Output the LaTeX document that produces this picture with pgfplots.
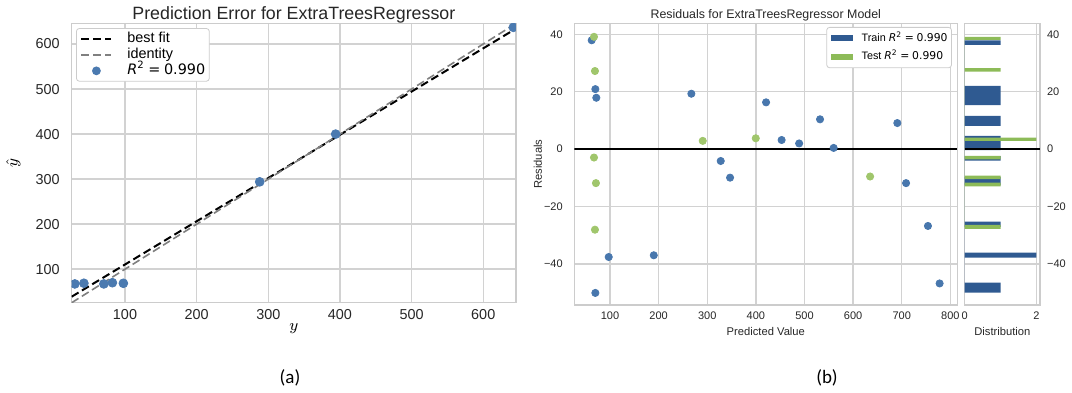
\documentclass[border=0pt]{standalone}
\usepackage{fontspec}
\setmainfont{Liberation Sans}
\newfontfamily\capfont{Carlito}
\newfontfamily\dejavu{DejaVu Sans}
\usepackage{pgfplots}
\pgfplotsset{compat=1.18}
\definecolor{gridc}{HTML}{D2D2D2}
\definecolor{framec}{HTML}{CCCCCC}
\definecolor{tickc}{HTML}{262626}
\definecolor{ptblue}{HTML}{4B7AB0}
\definecolor{trainpt}{HTML}{4877AD}
\definecolor{trainbar}{HTML}{2F5A91}
\definecolor{testpt}{HTML}{A0C66C}
\definecolor{testbar}{HTML}{8DBB58}
\newcommand{\rsq}{{\dejavu\itshape R}{\dejavu\textsuperscript{2}}\hspace{0.25em}{\dejavu =}\hspace{0.25em}{\dejavu 0.990}}
\pgfplotsset{
  every axis title shift=0pt,
  linelegend/.style={legend image code/.code={\draw[sharp corners, ##1] (0pt,0pt) -- (15pt,0pt); \path[draw=none] (0pt,0pt) -- (23pt,0pt);}},
  marklegend/.style={legend image code/.code={\path[draw=none] (0pt,0pt) -- (23pt,0pt); \fill[ptblue, draw=none] (7.5pt,0pt) circle (2.2pt);}},
  trainlegend/.style={legend image code/.code={\fill[trainbar, draw=none, sharp corners] (0pt,-1.5pt) rectangle (11pt,1.5pt); \path[draw=none] (0pt,0pt) -- (15.5pt,0pt);}},
  testlegend/.style={legend image code/.code={\fill[testbar, draw=none, sharp corners] (0pt,-1.5pt) rectangle (11pt,1.5pt); \path[draw=none] (0pt,0pt) -- (15.5pt,0pt);}},
}
\begin{document}
\begin{tikzpicture}
\path[use as bounding box] (0,0) rectangle (536pt,196pt);
% ---------------- (a) prediction error ----------------
\begin{axis}[
  at={(35.85pt,44.65pt)}, anchor=south west,
  scale only axis, width=222.15pt, height=139.7pt,
  xmin=25.6, xmax=645.7, ymin=25.6, ymax=646,
  xtick={100,200,...,600}, ytick={100,200,...,600},
  grid=major, grid style={gridc, line width=0.7pt},
  axis line style={framec, line width=0.7pt},
  tick style={draw=none},
  /pgf/number format/assume math mode=true,
  ticklabel style={font=\fontsize{7.2}{8}\selectfont, text=tickc, inner sep=0pt},
  yticklabel style={anchor=east, xshift=-5.8pt},
  xticklabel style={anchor=north, yshift=-3.4pt},
  title={Prediction Error for ExtraTreesRegressor},
  title style={at={(axis description cs:0.5,1.0297)}, anchor=center, font=\fontsize{8.9}{10}\selectfont, text=tickc},
  xlabel={$y$},
  xlabel style={at={(axis description cs:0.5,-0.094)}, anchor=center, font=\fontsize{8}{9}\selectfont},
  ylabel={$\hat{y}$},
  ylabel style={at={(axis description cs:-0.131,0.5)}, anchor=center, font=\fontsize{8}{9}\selectfont},
  clip marker paths=true,
  legend style={at={(0.0097,0.983)}, anchor=north west, draw=framec, rounded corners=1.5pt,
    fill=white, font=\fontsize{7.2}{8}\selectfont, inner xsep=2pt, inner ysep=1.8pt, row sep=1.2pt,
    nodes={inner sep=0pt, text height=5.3pt, text depth=1.5pt}},
  legend cell align=left,
]
\addplot[black, line width=1pt, dash pattern=on 4pt off 2pt, linelegend]
  coordinates {(25.6,39) (645.7,634.3)};
\addlegendentry{best fit\hspace{3pt}}
\addplot[gray, line width=0.8pt, dash pattern=on 4pt off 2pt, linelegend]
  coordinates {(25.6,25.6) (645.7,645.7)};
\addlegendentry{identity}
\addplot[only marks, mark=*, mark size=2.2pt, ptblue, mark options={draw=ptblue, fill=ptblue}, marklegend]
  coordinates {(30,67.3) (42.6,68.8) (70.5,67.3) (82.4,70) (97.7,68.7) (288,294) (394,400) (642,637)};
\addlegendentry{\rsq\hspace{3pt}}
\end{axis}
% ---------------- (b) residuals ----------------
\begin{axis}[
  at={(287.15pt,43.5pt)}, anchor=south west,
  scale only axis, width=191.5pt, height=140.85pt,
  xmin=26.5, xmax=814.4, ymin=-54.2, ymax=43.8,
  xtick={100,200,...,800}, ytick={-40,-20,0,20,40},
  yticklabels={−40,−20,0,20,40},
  grid=major, grid style={gridc, line width=0.7pt},
  axis line style={framec, line width=0.7pt},
  tick style={draw=none},
  /pgf/number format/assume math mode=true,
  ticklabel style={font=\fontsize{5.5}{6}\selectfont, text=tickc, inner sep=0pt},
  yticklabel style={anchor=east, xshift=-5.6pt},
  xticklabel style={anchor=north, yshift=-3pt},
  title={Residuals for ExtraTreesRegressor Model},
  title style={at={(axis description cs:0.5,1.0295)}, anchor=center, font=\fontsize{6.2}{7}\selectfont, text=tickc},
  xlabel={Predicted Value},
  xlabel style={at={(axis description cs:0.5,-0.0948)}, anchor=center, font=\fontsize{5.6}{6.5}\selectfont, text=tickc},
  ylabel={Residuals},
  ylabel style={at={(axis description cs:-0.0948,0.5)}, anchor=center, font=\fontsize{5.6}{6.5}\selectfont, text=tickc},
  legend style={at={(0.986,0.987)}, anchor=north east, draw=framec, rounded corners=1.5pt,
    fill=white, font=\fontsize{5.4}{7}\selectfont, inner xsep=2pt, inner ysep=2.8pt, row sep=3.6pt,
    nodes={inner sep=0pt, text height=4.3pt, text depth=1.2pt}},
  legend cell align=left,
]
\addplot[only marks, mark=*, mark size=1.8pt, mark options={draw=trainpt, fill=trainpt}, trainlegend]
  coordinates {(62.3,37.9) (69.8,20.9) (71.8,17.9) (267.3,19.3) (327.7,-4.1) (346.9,-9.9)
    (421,16.3) (453,3.2) (489,2.0) (97.3,-37.5) (190,-36.9) (69.8,-50) (532,10.4) (560,0.45)
    (691,9.1) (709,-11.8) (754,-26.7) (778,-46.7)};
\addlegendentry{Train \rsq\hspace{2pt}}
\addplot[only marks, mark=*, mark size=1.8pt, mark options={draw=testpt, fill=testpt}, testlegend]
  coordinates {(67,39.1) (69,27.2) (290.7,2.9) (399.8,3.8) (67,-2.9) (71,-11.8) (69,-28) (635,-9.5)};
\addlegendentry{Test \rsq}
\addplot[black, line width=1pt, forget plot] coordinates {(26.5,0) (814.4,0)};
\end{axis}
% ---------------- histogram ----------------
\begin{axis}[
  at={(482.35pt,43.5pt)}, anchor=south west,
  scale only axis, width=37.65pt, height=140.85pt,
  xmin=0, xmax=2.1, ymin=-54.2, ymax=43.8,
  xtick={0,2}, ytick={-40,-20,0,20,40},
  yticklabels={−40,−20,0,20,40},
  yticklabel pos=right,
  grid=major, grid style={gridc, line width=0.7pt},
  axis line style={framec, line width=0.7pt},
  tick style={draw=none},
  /pgf/number format/assume math mode=true,
  ticklabel style={font=\fontsize{5.5}{6}\selectfont, text=tickc, inner sep=0pt},
  yticklabel style={anchor=west, xshift=3.35pt},
  xticklabel style={anchor=north, yshift=-3pt},
  xlabel={Distribution},
  xlabel style={at={(axis description cs:0.5,-0.0948)}, anchor=center, font=\fontsize{5.6}{6.5}\selectfont, text=tickc},
]
\addplot[xbar interval, fill=trainbar, draw=none]
  coordinates {(1,-49.9) (0,-46.4) (2,-37.7) (0,-36.0) (1,-27.0) (0,-25.2) (1,-12.6) (0,-9.6)
    (1,-4.0) (0,-2.4) (1,-0.35) (0,4.6) (1,8.1) (0,11.6) (1,15.3) (0,22.0) (1,36.3) (0,37.9)};
\addplot[xbar interval, fill=testbar, draw=none]
  coordinates {(1,-27.7) (0,-26.3) (1,-12.9) (0,-11.6) (1,-10.4) (0,-9.2) (1,-3.5) (0,-2.3)
    (2,2.9) (0,4.0) (1,27.0) (0,28.2) (1,38.0) (0,39.1)};
\addplot[black, line width=1pt] coordinates {(0,0) (2.1,0)};
\end{axis}
\node[font=\capfont\fontsize{9.5}{11}\selectfont] at (145pt,7pt) {(a)};
\node[font=\capfont\fontsize{9.5}{11}\selectfont] at (413.5pt,7pt) {(b)};
\end{tikzpicture}
\end{document}
